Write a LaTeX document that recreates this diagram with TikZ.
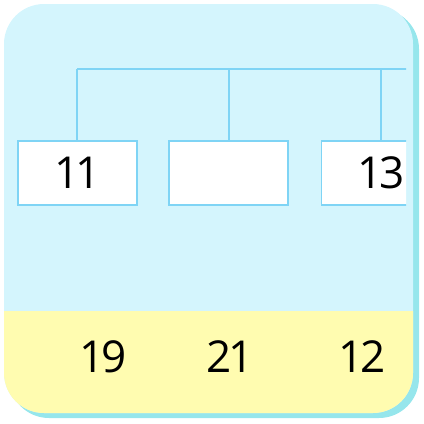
\documentclass[tikz,border=0pt]{standalone}
\usepackage{fontspec}
\setmainfont{Open Sans}
\usepackage{tikz}
\usetikzlibrary{positioning,calc}
\definecolor{cardblue}{RGB}{212,245,253}
\definecolor{cardshadow}{RGB}{150,230,236}
\definecolor{cardyellow}{RGB}{255,252,176}
\definecolor{linkblue}{RGB}{127,212,245}
\newcommand{\numfont}{\fontsize{44}{48}\selectfont\addfontfeatures{LetterSpace=-8}}
\tikzset{
  numbox/.style = {draw = linkblue, line width = 1.2pt, fill = white,
    minimum width = 119pt, minimum height = 64pt, inner sep = 0pt,
    font = \numfont},
  numtext/.style = {font = \numfont, inner sep = 0pt},
  link/.style = {draw = linkblue, line width = 1.5pt}
}

\begin{document}
\begin{tikzpicture}[x = 1pt, y = -1pt]
\useasboundingbox (0,0) rectangle (424,424);
% card with shadow
\fill[cardshadow, rounded corners = 40pt] (9,9) rectangle (419,418);
\fill[cardblue, rounded corners = 40pt] (4,4) rectangle (413,413);
\begin{scope}
\clip[rounded corners = 40pt] (4,4) rectangle (413,413);
\fill[cardyellow] (0,311) rectangle (424,424);
\end{scope}
% tree
\begin{scope}
\clip (0,0) rectangle (406,424);
\coordinate (t1) at (77,69);
\coordinate (t2) at (229,69);
\coordinate (t3) at (381,69);
\coordinate (tend) at (410,69);
\node[numbox] (b1) at (77.5,173) {11};
\node[numbox] (b2) at (228.5,173) {};
\node[numbox] (b3) at (381,173) {13};
\draw[link] (t1) -- (tend);
\draw[link] (t1) -- (b1.north -| t1);
\draw[link] (t2) -- (b2.north -| t2);
\draw[link] (t3) -- (b3.north -| t3);
\end{scope}
% answers
\node[numtext] (a1) at (103,357) {19};
\node[numtext] (a2) at (230,357) {21};
\node[numtext] (a3) at (362,357) {12};
\end{tikzpicture}
\end{document}
